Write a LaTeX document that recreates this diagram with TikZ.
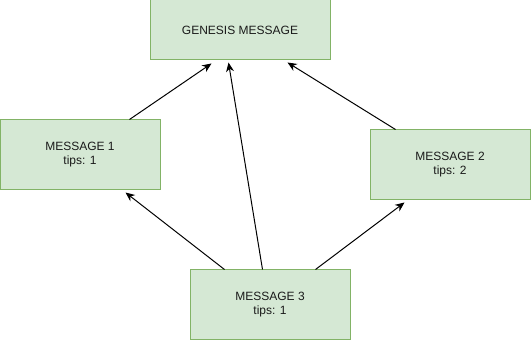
\documentclass[tikz,border=0pt]{standalone}
\usepackage{fontspec}
\setmainfont{Liberation Sans}
\usetikzlibrary{arrows.meta}

\definecolor{msgfill}{HTML}{D5E8D4}
\definecolor{msgline}{HTML}{82B366}
\definecolor{msgtext}{HTML}{1A1A1A}

\tikzset{
    msg/.style={draw=msgline, fill=msgfill, line width=0.75pt, inner sep=0pt,
        minimum width=120pt, minimum height=52.5pt, align=center, text=msgtext,
        font=\fontsize{9}{10.5}\selectfont},
    link/.style={-{Stealth[length=7pt,width=6pt]}, line width=0.75pt}
}

\begin{document}
\begin{tikzpicture}[x=0.75pt,y=-0.75pt]
    \useasboundingbox (0,0) rectangle (531,341);

    % the chain of messages
    \node[msg, minimum width=135pt, minimum height=45pt] (genesis) at (240,30) {GENESIS MESSAGE};
    \node[msg] (msg1) at (80,155) {MESSAGE 1\\tips: 1};
    \node[msg] (msg2) at (450,165) {MESSAGE 2\\tips: 2};
    \node[msg] (msg3) at (270,305) {MESSAGE 3\\tips: 1};

    % references to earlier messages
    \draw[link] ([xshift=97.5pt]msg1.north west) -- ([xshift=46.5pt,yshift=-2.25pt]genesis.south west);
    \draw[link] ([xshift=54.75pt]msg3.north west) -- ([xshift=59.25pt,yshift=-1.5pt]genesis.south west);
    \draw[link] ([xshift=19.5pt]msg2.north west) -- ([xshift=103.5pt,yshift=-1.5pt]genesis.south west);
    \draw[link] ([xshift=26.25pt]msg3.north west) -- ([xshift=94.5pt,yshift=-1.5pt]msg1.south west);
    \draw[link] ([xshift=94.5pt]msg3.north west) -- ([xshift=26.25pt,yshift=-1.5pt]msg2.south west);
\end{tikzpicture}
\end{document}
